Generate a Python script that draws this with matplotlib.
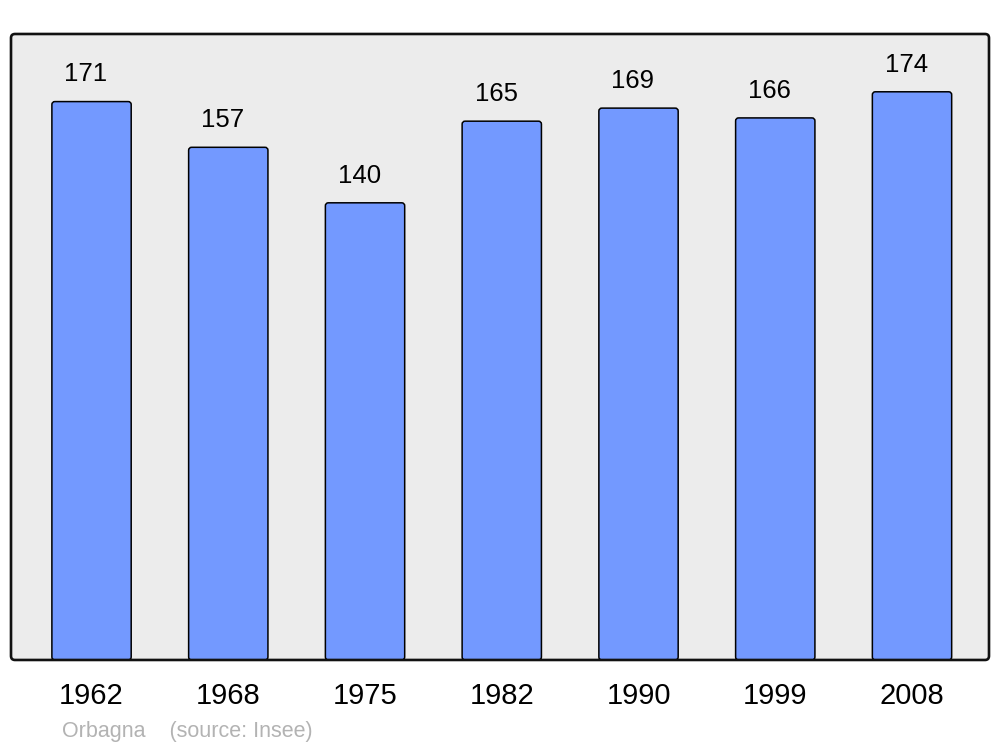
import numpy as np
import matplotlib.pyplot as plt
from matplotlib.patches import FancyBboxPatch

plt.rcParams['font.family'] = ['Liberation Sans', 'DejaVu Sans']

# données de population
years = ['1962', '1968', '1975', '1982', '1990', '1999', '2008']
population = [171, 157, 140, 165, 169, 166, 174]

x = np.arange(len(years))

fig = plt.figure(figsize=(10, 7.47), dpi=100)
ax = fig.add_axes([0.011, 0.1165, 0.978, 0.838])
ax.set_facecolor('#ececec')

ax.set_xlim(-0.589, 6.563)
ax.set_ylim(0, 191.7)

bars = ax.bar(x, population, width=0.58, color='#7399ff', edgecolor='black',
              linewidth=1.1, zorder=2)

# coins arrondis pour les barres
px_x = 978 / (ax.get_xlim()[1] - ax.get_xlim()[0])
px_y = 626 / (ax.get_ylim()[1] - ax.get_ylim()[0])
for b in bars:
    bx, by = b.get_xy()
    rb = FancyBboxPatch((bx, by), b.get_width(), b.get_height(),
                        boxstyle='round,pad=0,rounding_size=%f' % (3 / px_x),
                        mutation_aspect=px_x / px_y,
                        facecolor='#7399ff', edgecolor='black', linewidth=1.1,
                        zorder=2)
    b.set_visible(False)
    ax.add_patch(rb)

# étiquettes de valeurs
for xi, v in zip(x, population):
    ax.annotate(str(v), xy=(xi, v), xytext=(-4, 11), textcoords='offset points',
                ha='center', va='bottom', fontsize=18.5)

ax.set_xticks(x)
ax.set_xticklabels(years, fontsize=21)
ax.tick_params(axis='x', length=0, pad=16)
ax.set_yticks([])

# cadre arrondi
for s in ax.spines.values():
    s.set_visible(False)
frame = FancyBboxPatch((0, 0), 1, 1, boxstyle='round,pad=0,rounding_size=%f' % (4 / 978),
                       mutation_aspect=978 / 626, transform=ax.transAxes,
                       facecolor='none', edgecolor='#111111', linewidth=1.9,
                       clip_on=False, zorder=3)
ax.add_patch(frame)

fig.text(0.062, 1 - 732 / 747, 'Orbagna    (source: Insee)', color='#b3b3b3',
         fontsize=15.5, va='center', ha='left')

fig.savefig('out.png', dpi=100)
